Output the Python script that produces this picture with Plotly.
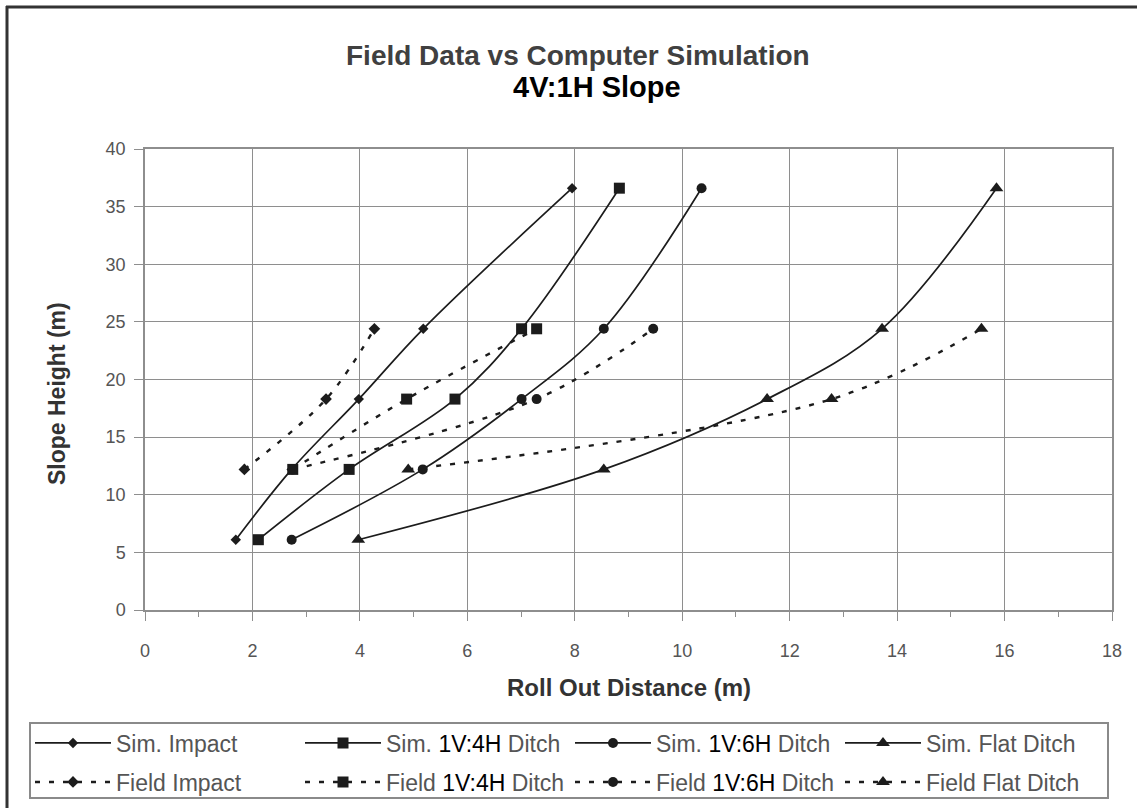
import plotly.graph_objects as go

# ---- data ----
sim_heights = [6.1, 12.2, 18.3, 24.4, 36.6]
sim_impact_x = [1.69, 2.73, 3.98, 5.18, 7.95]
sim_4h_x = [2.11, 3.80, 5.77, 7.01, 8.83]
sim_6h_x = [2.73, 5.17, 7.01, 8.54, 10.36]
sim_flat_x = [3.97, 8.54, 11.58, 13.72, 15.85]

field_heights = [12.2, 18.3, 24.4]
field_impact_x = [1.85, 3.37, 4.27]
field_4h_x = [2.75, 4.87, 7.29]
field_6h_x = [2.75, 7.29, 9.46]
field_flat_x = [4.90, 12.78, 15.57]

x_ticks = [0, 2, 4, 6, 8, 10, 12, 14, 16, 18]
y_ticks = [0, 5, 10, 15, 20, 25, 30, 35, 40]

BLK = '<span style="color:#000000">{}</span>'
sim_names = ["Sim. Impact", "Sim. " + BLK.format("1V:4H") + " Ditch",
             "Sim. " + BLK.format("1V:6H") + " Ditch", "Sim. Flat Ditch"]
field_names = ["Field Impact", "Field " + BLK.format("1V:4H") + " Ditch",
               "Field " + BLK.format("1V:6H") + " Ditch", "Field Flat Ditch"]

symbols = ["diamond", "square", "circle", "triangle-up"]
sim_sizes = [8, 11, 10, 12]
field_sizes = [9, 11, 10, 12]

LINE_C = "#1c1c1c"
FONT = "Liberation Sans, Arial, sans-serif"

fig = go.Figure()
for xs, nm, sym, sz in zip([sim_impact_x, sim_4h_x, sim_6h_x, sim_flat_x],
                           sim_names, symbols, sim_sizes):
    fig.add_trace(go.Scatter(
        x=xs, y=sim_heights, name=nm, mode="lines+markers",
        line=dict(color=LINE_C, width=1.7, shape="spline", smoothing=1.0),
        marker=dict(symbol=sym, size=sz, color=LINE_C),
        legend="legend"))
for xs, nm, sym, sz in zip([field_impact_x, field_4h_x, field_6h_x, field_flat_x],
                           field_names, symbols, field_sizes):
    fig.add_trace(go.Scatter(
        x=xs, y=field_heights, name=nm, mode="lines+markers",
        line=dict(color=LINE_C, width=2.4, dash="5px,9px", shape="spline", smoothing=1.0),
        marker=dict(symbol=sym, size=sz, color=LINE_C),
        legend="legend2"))

# pixel helpers for paper coordinates
L, R, T, B = 145, 25, 149, 198
W, H = 1137, 808
PW, PH = W - L - R, H - T - B


def px(xp):
    return (xp - L) / PW


def py(yp):
    return (H - B - yp) / PH


legend_common = dict(orientation="h", xanchor="left", yanchor="middle",
                     itemwidth=76, entrywidth=179, entrywidthmode="pixels",
                     font=dict(family=FONT, size=23, color="#555555"),
                     bgcolor="rgba(0,0,0,0)", borderwidth=0, traceorder="normal")

fig.update_layout(
    width=W, height=H,
    margin=dict(l=L, r=R, t=T, b=B, autoexpand=False),
    paper_bgcolor="white", plot_bgcolor="white",
    font=dict(family=FONT, color="#444444"),
    showlegend=True,
    legend=dict(x=px(30), y=py(743), **legend_common),
    legend2=dict(x=px(30), y=py(782), **legend_common),
    xaxis=dict(range=[0, 18], tickvals=x_ticks, ticktext=[str(v) for v in x_ticks],
               showgrid=True, gridcolor="#8e8e8e", gridwidth=1,
               showline=True, linecolor="#8e8e8e", linewidth=1.5, mirror=True,
               ticks="outside", ticklen=9, tickcolor="#8e8e8e",
               minor=dict(dtick=1, ticks="outside", ticklen=5, tickcolor="#8e8e8e", showgrid=False),
               tickfont=dict(family=FONT, size=18, color="#555555"),
               ticklabelstandoff=15, zeroline=False, fixedrange=True),
    yaxis=dict(range=[0, 40], tickvals=y_ticks, ticktext=[str(v) for v in y_ticks],
               showgrid=True, gridcolor="#8e8e8e", gridwidth=1,
               showline=True, linecolor="#8e8e8e", linewidth=1.5, mirror=True,
               ticks="outside", ticklen=9, tickcolor="#8e8e8e",
               tickfont=dict(family=FONT, size=18, color="#555555"),
               ticklabelstandoff=5, zeroline=False, fixedrange=True),
    annotations=[
        dict(text="<b>Field Data vs Computer Simulation</b>", xref="paper", yref="paper",
             x=px(577.5), y=py(55), xanchor="center", yanchor="middle", showarrow=False,
             font=dict(family=FONT, size=28, color="#404040")),
        dict(text="<b>4V:1H Slope</b>", xref="paper", yref="paper",
             x=px(597), y=py(87), xanchor="center", yanchor="middle", showarrow=False,
             font=dict(family=FONT, size=29, color="#000000")),
        dict(text="<b>Roll Out Distance (m)</b>", xref="paper", yref="paper",
             x=0.5, y=py(687), xanchor="center", yanchor="middle", showarrow=False,
             font=dict(family=FONT, size=24, color="#333333")),
        dict(text="<b>Slope Height (m)</b>", xref="paper", yref="paper",
             x=px(57), y=py(394), xanchor="center", yanchor="middle", showarrow=False,
             textangle=-90, font=dict(family=FONT, size=23, color="#333333")),
    ],
    shapes=[
        # outer frame (left and top dark edges)
        dict(type="line", xref="paper", yref="paper", x0=px(7), x1=px(7), y0=py(6), y1=py(808),
             line=dict(color="#333333", width=3)),
        dict(type="line", xref="paper", yref="paper", x0=px(6), x1=px(1137), y0=py(7), y1=py(7),
             line=dict(color="#333333", width=3)),
        # legend box
        dict(type="rect", xref="paper", yref="paper", x0=px(30), x1=px(1108), y0=py(723), y1=py(798),
             line=dict(color="#8a8a8a", width=2), fillcolor="rgba(0,0,0,0)", layer="below"),
    ],
)

fig.write_html("out.html", config={"displayModeBar": False},
               post_script="document.body.style.margin='0px';document.body.style.overflow='hidden';")
